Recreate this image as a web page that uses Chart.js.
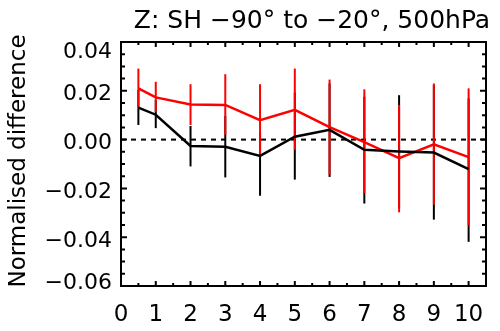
<!DOCTYPE html>
<html>
<head>
<meta charset="utf-8">
<script src="https://cdn.jsdelivr.net/npm/chart.js@4.4.1/dist/chart.umd.min.js"></script>
<style>
  html, body { margin: 0; padding: 0; background: #fff; }
  #wrap { width: 500px; height: 331px; }
</style>
</head>
<body>
<div id="wrap"><canvas id="zChart"></canvas></div>
<script>
// data
const leadTimes = [0.5, 1, 2, 3, 4, 5, 6, 7, 8, 9, 10];
const blackMean = [0.0131, 0.0102, -0.0026, -0.0029, -0.0067, 0.0012, 0.004, -0.0042, -0.0049, -0.0053, -0.0121];
const blackLow  = [0.006, 0.0047, -0.011, -0.0155, -0.023, -0.0164, -0.0153, -0.0262, -0.028, -0.0328, -0.0419];
const blackHigh = [0.0203, 0.0162, 0.0056, 0.0097, 0.003, 0.0193, 0.023, 0.0176, 0.0182, 0.0223, 0.0169];
const redMean = [0.021, 0.0173, 0.0144, 0.0142, 0.008, 0.0122, 0.0051, -0.001, -0.0076, -0.0019, -0.0072];
const redLow  = [0.0135, 0.0114, 0.006, 0.0019, -0.0067, -0.0042, -0.0144, -0.0219, -0.0298, -0.0267, -0.035];
const redHigh = [0.0291, 0.0237, 0.0227, 0.0268, 0.0227, 0.0291, 0.0246, 0.0206, 0.0142, 0.023, 0.021];
const xTicks = [0, 1, 2, 3, 4, 5, 6, 7, 8, 9, 10];
const yTicks = [-0.06, -0.04, -0.02, 0.00, 0.02, 0.04];
const titleText = 'Z: SH \u221290\u00b0 to \u221220\u00b0, 500hPa';
const yTitleText = 'Normalised difference';

const FONT = '"DejaVu Sans", Verdana, sans-serif';

function toXY(xs, ys) {
  return xs.map((x, i) => ({ x: x, y: ys[i] }));
}

// error bars, zero line, inside ticks, frame and titles
const decor = {
  id: 'decor',
  beforeDatasetsDraw(chart) {
    const ctx = chart.ctx;
    const a = chart.chartArea;
    const ys = chart.scales.y;
    const xs = chart.scales.x;
    ctx.save();
    // dashed zero line
    ctx.strokeStyle = '#000';
    ctx.lineWidth = 2;
    ctx.setLineDash([5, 5]);
    ctx.beginPath();
    ctx.moveTo(a.left, ys.getPixelForValue(0));
    ctx.lineTo(a.right, ys.getPixelForValue(0));
    ctx.stroke();
    ctx.setLineDash([]);
    // error bars
    const bars = [[blackLow, blackHigh, '#000'], [redLow, redHigh, '#ff0000']];
    bars.forEach(([lo, hi, col]) => {
      ctx.strokeStyle = col;
      ctx.lineWidth = 2;
      leadTimes.forEach((t, i) => {
        const px = xs.getPixelForValue(t);
        ctx.beginPath();
        ctx.moveTo(px, ys.getPixelForValue(lo[i]));
        ctx.lineTo(px, ys.getPixelForValue(hi[i]));
        ctx.stroke();
      });
    });
    ctx.restore();
  },
  afterDraw(chart) {
    const ctx = chart.ctx;
    const a = chart.chartArea;
    const ys = chart.scales.y;
    const xs = chart.scales.x;
    ctx.save();
    ctx.strokeStyle = '#000';
    ctx.lineWidth = 2;
    ctx.strokeRect(a.left, a.top, a.right - a.left, a.bottom - a.top);
    ctx.beginPath();
    // y ticks every 0.005, major every 0.02
    for (let k = -12; k <= 8; k++) {
      const py = ys.getPixelForValue(k * 0.005);
      const len = k % 4 === 0 ? 6 : 4;
      ctx.moveTo(a.left, py); ctx.lineTo(a.left + len, py);
      ctx.moveTo(a.right, py); ctx.lineTo(a.right - len, py);
    }
    // x ticks every 0.5, major every 1
    for (let k = 0; k <= 21; k++) {
      const px = xs.getPixelForValue(k * 0.5);
      const len = k % 2 === 0 ? 5 : 3;
      ctx.moveTo(px, a.bottom); ctx.lineTo(px, a.bottom - len);
      ctx.moveTo(px, a.top); ctx.lineTo(px, a.top + len);
    }
    ctx.stroke();
    // y tick labels, end ones kept inside the frame like the original
    ctx.fillStyle = '#000';
    ctx.font = '22px ' + FONT;
    ctx.textAlign = 'right';
    ctx.textBaseline = 'alphabetic';
    yTicks.forEach(v => {
      const py = ys.getPixelForValue(v);
      const base = Math.min(Math.max(py + 9.5, a.top + 15.5), a.bottom + 3);
      ctx.fillText(v.toFixed(2).replace('-', '\u2212'), a.left - 9, base);
    });
    // titles
    ctx.font = '25px ' + FONT;
    ctx.textAlign = 'center';
    ctx.fillText(titleText, 312, 28);
    ctx.translate(25, 161);
    ctx.rotate(-Math.PI / 2);
    ctx.font = '23px ' + FONT;
    ctx.fillText(yTitleText, 0, 0);
    ctx.restore();
  }
};

const ctx = document.getElementById('zChart').getContext('2d');
const zChart = new Chart(ctx, {
  type: 'line',
  data: {
    datasets: [
      {
        label: 'black',
        data: toXY(leadTimes, blackMean),
        borderColor: '#000',
        borderWidth: 2.5,
        pointRadius: 0,
        tension: 0
      },
      {
        label: 'red',
        data: toXY(leadTimes, redMean),
        borderColor: '#ff0000',
        borderWidth: 2.5,
        pointRadius: 0,
        tension: 0
      }
    ]
  },
  options: {
    responsive: true,
    maintainAspectRatio: false,
    animation: false,
    layout: { padding: { top: 42, right: 14, left: 0, bottom: 0 } },
    plugins: {
      legend: { display: false },
      tooltip: { enabled: false }
    },
    scales: {
      x: {
        type: 'linear',
        min: 0,
        max: 10.5,
        afterFit: s => { s.height = 45; },
        afterBuildTicks: s => { s.ticks = xTicks.map(v => ({ value: v })); },
        grid: { display: false },
        border: { display: false },
        ticks: {
          padding: 7,
          color: '#000',
          font: { size: 23, family: FONT },
          maxRotation: 0,
          autoSkip: false,
          callback: v => String(v)
        }
      },
      y: {
        min: -0.06,
        max: 0.04,
        afterFit: s => { s.width = 121; },
        afterBuildTicks: s => { s.ticks = yTicks.map(v => ({ value: v })); },
        grid: { display: false },
        border: { display: false },
        ticks: { display: false }
      }
    }
  },
  plugins: [decor]
});
</script>
</body>
</html>
